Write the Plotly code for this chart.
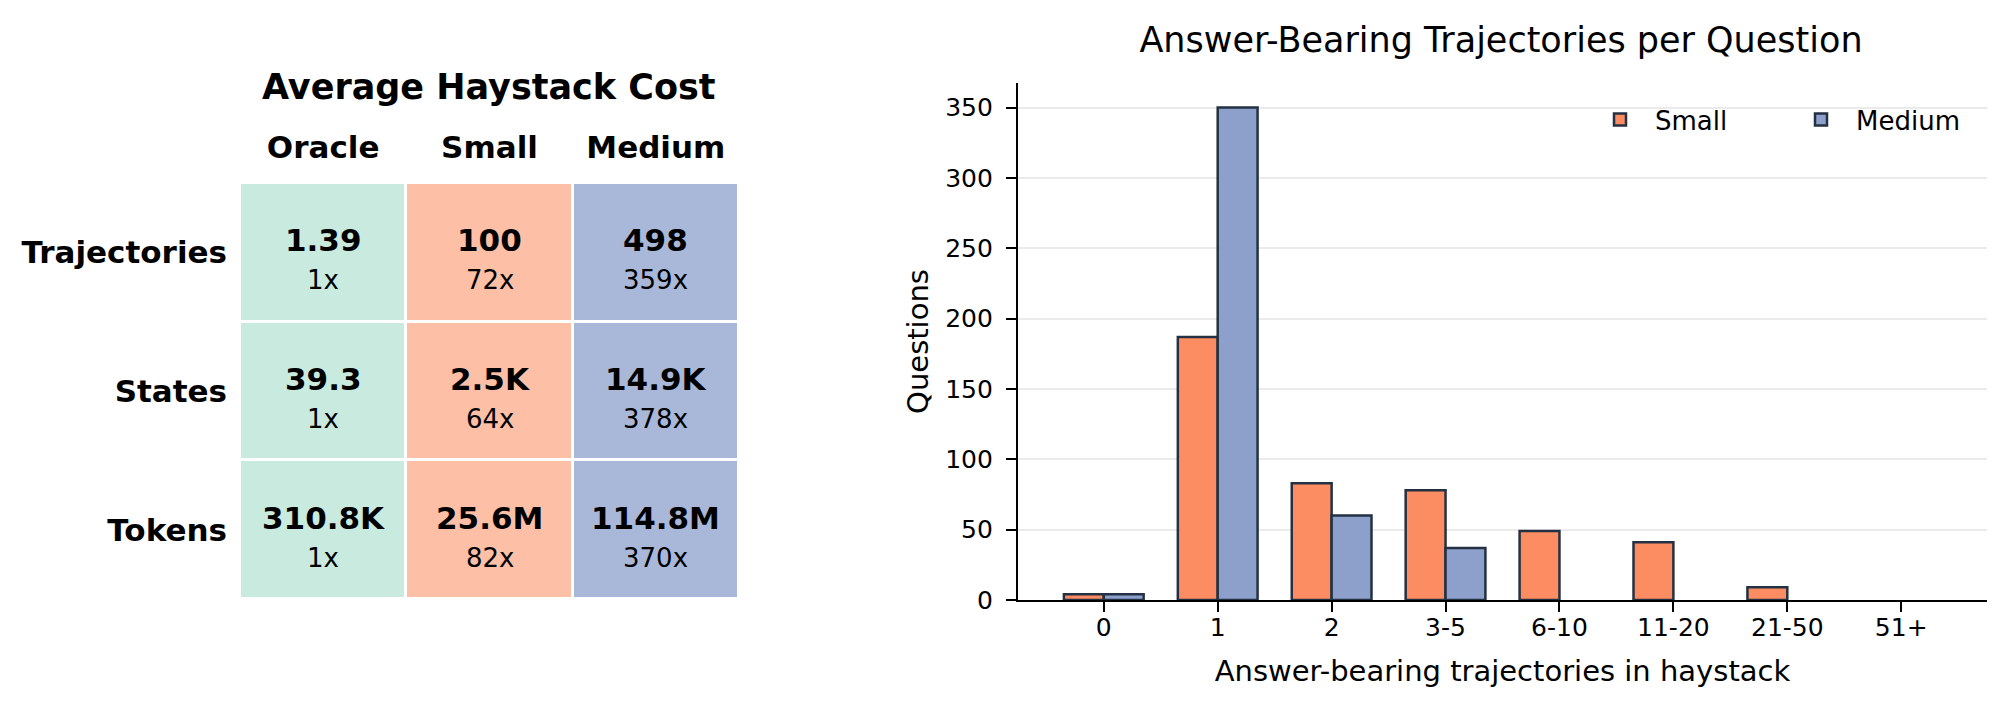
import plotly.graph_objects as go

# Table: average haystack cost
table_title = "Average Haystack Cost"
table_cols = ["Oracle", "Small", "Medium"]
table_rows = ["Trajectories", "States", "Tokens"]
cell_values = [
    ["1.39", "100", "498"],
    ["39.3", "2.5K", "14.9K"],
    ["310.8K", "25.6M", "114.8M"],
]
cell_ratios = [
    ["1x", "72x", "359x"],
    ["1x", "64x", "378x"],
    ["1x", "82x", "370x"],
]

# Bar chart: answer-bearing trajectories per question
chart_title = "Answer-Bearing Trajectories per Question"
bins = ["0", "1", "2", "3-5", "6-10", "11-20", "21-50", "51+"]
small_counts = [4, 187, 83, 78, 49, 41, 9, 0]
medium_counts = [4, 350, 60, 37, 0, 0, 0, 0]

FONT = "DejaVu Sans"
EDGE = "#243142"
cell_colors = ["#c9eadf", "#fdbfa5", "#a9b8d8"]

fig = go.Figure()

# table cells as a heatmap, one colour per column
z = [[j for j in range(len(table_cols))] for _ in table_rows]
fig.add_trace(go.Heatmap(
    z=z,
    x=list(range(len(table_cols))),
    y=list(range(len(table_rows))),
    colorscale=[[0, cell_colors[0]], [0.5, cell_colors[1]], [1, cell_colors[2]]],
    zmin=0, zmax=2,
    showscale=False,
    xgap=3, ygap=3,
    hoverinfo="skip",
    xaxis="x2", yaxis="y2",
))

annotations = []
for i, row in enumerate(table_rows):
    for j, col in enumerate(table_cols):
        annotations.append(dict(
            x=j, y=i, xref="x2", yref="y2",
            text=f"<b>{cell_values[i][j]}</b>", showarrow=False,
            font=dict(family=FONT, size=31, color="black"), yshift=12,
        ))
        annotations.append(dict(
            x=j, y=i, xref="x2", yref="y2",
            text=cell_ratios[i][j], showarrow=False,
            font=dict(family=FONT, size=26, color="black"), yshift=-28,
        ))

annotations.append(dict(
    x=489 / 2014, y=(715 - 87) / 715, xref="paper", yref="paper",
    text=f"<b>{table_title}</b>", showarrow=False,
    font=dict(family=FONT, size=35, color="black"),
    xanchor="center", yanchor="middle",
))

# bars (no outline on empty bins)
fig.add_trace(go.Bar(
    x=bins, y=small_counts, name="Small",
    marker=dict(color="#fc8d62",
                line=dict(color=EDGE, width=[2.5 if v else 0 for v in small_counts])),
    xaxis="x", yaxis="y",
))
fig.add_trace(go.Bar(
    x=bins, y=medium_counts, name="Medium",
    marker=dict(color="#8da0cb",
                line=dict(color=EDGE, width=[2.5 if v else 0 for v in medium_counts])),
    xaxis="x", yaxis="y",
))

fig.update_layout(
    width=2014, height=715,
    margin=dict(l=0, r=0, t=0, b=0, autoexpand=False),
    paper_bgcolor="white", plot_bgcolor="white",
    font=dict(family=FONT, color="black", size=25),
    barmode="group", bargap=0.3, bargroupgap=0,
    title=dict(
        text=chart_title, x=1501 / 2014, xanchor="center",
        y=(715 - 40) / 715, yanchor="middle",
        font=dict(family=FONT, size=35, color="black"),
    ),
    xaxis=dict(
        domain=[1018 / 2014, 1987 / 2014], anchor="y", automargin=False,
        range=[-0.753, 7.753], type="category",
        showline=True, linecolor="black", linewidth=2.3,
        ticks="outside", ticklen=10, tickwidth=2.3, tickcolor="black",
        showgrid=False, zeroline=False,
        tickfont=dict(size=25), ticklabelstandoff=-6,
        title=dict(text="Answer-bearing trajectories in haystack", font=dict(size=29), standoff=20),
    ),
    yaxis=dict(
        domain=[(715 - 600) / 715, (715 - 83) / 715], anchor="x", automargin=False,
        range=[0, 367.5], dtick=50,
        showline=True, linecolor="black", linewidth=2.3,
        ticks="outside", ticklen=10, tickwidth=2.3, tickcolor="black",
        showgrid=True, gridcolor="#ebebeb", gridwidth=2,
        zeroline=False,
        tickfont=dict(size=25), ticklabelstandoff=8,
        title=dict(text="Questions", font=dict(size=29), standoff=8),
    ),
    xaxis2=dict(
        domain=[240 / 2014, 739 / 2014], anchor="y2", automargin=False,
        range=[-0.5, 2.5], side="top",
        tickmode="array", tickvals=list(range(len(table_cols))),
        ticktext=[f"<b>{c}</b>" for c in table_cols],
        tickfont=dict(size=31), ticks="", ticklabelstandoff=18,
        showgrid=False, zeroline=False, showline=False,
    ),
    yaxis2=dict(
        domain=[(715 - 599) / 715, (715 - 183) / 715], anchor="x2", automargin=False,
        range=[2.5, -0.5],
        tickmode="array", tickvals=list(range(len(table_rows))),
        ticktext=[f"<b>{r}</b>" for r in table_rows],
        tickfont=dict(size=31), ticks="", ticklabelstandoff=12,
        showgrid=False, zeroline=False, showline=False,
    ),
    legend=dict(
        orientation="h", x=1987 / 2014, xanchor="right",
        y=(715 - 96) / 715, yanchor="top",
        font=dict(size=26), bgcolor="rgba(0,0,0,0)",
        itemwidth=60, entrywidth=126,
    ),
    annotations=annotations,
)

fig.write_html("out.html", config={"displayModeBar": False},
               post_script="document.body.style.margin='0';")
